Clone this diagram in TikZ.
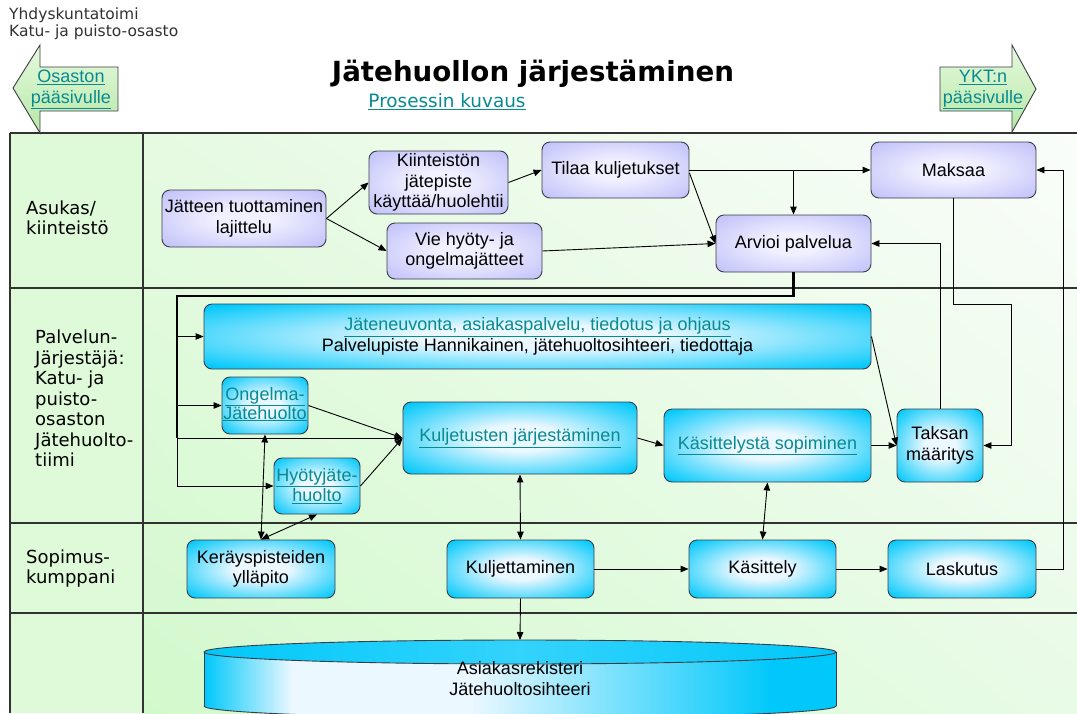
\documentclass[tikz,border=0pt]{standalone}
\usepackage{fontspec}
\setmainfont{Liberation Sans}
\newfontfamily\verd{DejaVu Sans}
\usetikzlibrary{arrows.meta,calc,shadings}

% palette
\definecolor{lanegreen}{RGB}{222,250,216}
\definecolor{bgUL}{RGB}{230,250,226}
\definecolor{bgUR}{RGB}{250,253,250}
\definecolor{bgLL}{RGB}{210,249,204}
\definecolor{bgLR}{RGB}{232,251,230}
\definecolor{lavOut}{RGB}{194,194,250}
\definecolor{lavIn}{RGB}{240,240,255}
\definecolor{cyanOut}{RGB}{0,200,250}
\definecolor{cyanIn}{RGB}{236,248,255}
\definecolor{link}{RGB}{8,138,145}
\definecolor{edge}{RGB}{60,60,70}
\definecolor{grid}{RGB}{50,50,50}
\definecolor{navTop}{RGB}{230,249,222}
\definecolor{navBot}{RGB}{182,232,166}

% soft glow inside the process boxes
\pgfdeclareradialshading{lavglow}{\pgfpoint{0bp}{0bp}}{color(0bp)=(lavIn); color(9bp)=(lavIn); color(34bp)=(lavOut); color(75bp)=(lavOut)}
\pgfdeclareradialshading{cyanglow}{\pgfpoint{0bp}{0bp}}{color(0bp)=(cyanIn); color(9bp)=(cyanIn); color(34bp)=(cyanOut); color(75bp)=(cyanOut)}
% register cylinder body
\pgfdeclarehorizontalshading{cylbody}{100bp}{color(0bp)=(cyanOut); color(25bp)=(cyanOut); color(32bp)=(cyanIn); color(46bp)=(cyanIn); color(70bp)=(cyanOut); color(100bp)=(cyanOut)}

\tikzset{
  box/.style={rounded corners=8pt, draw=edge, line width=0.9pt, inner sep=0pt,
    align=center, font=\fontsize{18}{20.5}\selectfont, text=black},
  lav/.style={box, shade, shading=lavglow},
  cy/.style={box, shade, shading=cyanglow},
  lane/.style={anchor=west, align=left, inner sep=0pt,
    font=\verd\fontsize{18}{20.5}\selectfont},
  navtext/.style={align=center, inner sep=0pt, text=link,
    font=\fontsize{18}{21}\selectfont},
  navshape/.style={draw=edge, line width=0.9pt, top color=navTop, bottom color=navBot},
  conn/.style={draw=black, line width=0.9pt},
  arr/.style={conn, -{Triangle[length=8pt,width=6.5pt]}},
  darr/.style={conn, {Triangle[length=8pt,width=6.5pt]}-{Triangle[length=8pt,width=6.5pt]}},
  bus/.style={draw=black, line width=2.6pt},
  gridline/.style={draw=grid, line width=1.1pt},
}
\newcommand{\lnk}[1]{\textcolor{link}{\underline{#1}}}

\begin{document}
\begin{tikzpicture}[x=1pt,y=-1pt]
\useasboundingbox (0,0) rectangle (1077,713);
\fill[white] (0,0) rectangle (1077,713);

% swimlane backgrounds
\fill[lanegreen] (10,133) rectangle (143,713);
\shade[upper left=bgUL, upper right=bgUR, lower left=bgLL, lower right=bgLR]
  (143,133) rectangle (1077,713);

% swimlane grid
\draw[gridline] (10,133) -- (1077,133);
\draw[gridline] (10,288) -- (1077,288);
\draw[gridline] (10,523) -- (1077,523);
\draw[gridline] (10,613) -- (1077,613);
\draw[gridline] (10,133) -- (10,713);
\draw[gridline] (143,133) -- (143,713);

% header
\node[anchor=west, align=left, inner sep=0pt, text={rgb,255:red,50;green,50;blue,50},
  font=\verd\fontsize{15.5}{17}\selectfont] (org) at (9,23.5)
  {Yhdyskuntatoimi\\Katu- ja puisto-osasto};
\node[inner sep=0pt, font=\verd\bfseries\fontsize{27.7}{30}\selectfont] (title) at (533,74)
  {Jätehuollon järjestäminen};
\node[inner sep=0pt, text=link, font=\verd\fontsize{18.4}{20}\selectfont] (sub) at (447,102)
  {\underline{Prosessin kuvaus}};

% navigation arrows
\draw[navshape] (13,88) -- (40,45) -- (40,67) -- (118,67) -- (118,111)
  -- (40,111) -- (40,133) -- cycle;
\node[navtext] (navL) at (71,89.5) {\underline{Osaston}\\\underline{pääsivulle}};
\draw[navshape] (1036,89) -- (1012,45) -- (1012,67) -- (940,67) -- (940,111)
  -- (1012,111) -- (1012,132) -- cycle;
\node[navtext] (navR) at (983,89.5) {\underline{YKT:n}\\\underline{pääsivulle}};

% lane titles
\node[lane] (l1) at (26,218) {Asukas/\\kiinteistö};
\node[lane] (l2) at (35,398.5) {Palvelun-\\Järjestäjä:\\Katu- ja\\puisto-\\osaston\\Jätehuolto-\\tiimi};
\node[lane] (l3) at (26,568.5) {Sopimus-\\kumppani};

% residents
\node[lav, minimum width=164pt, minimum height=57pt] (n1) at (244,218.5) {Jätteen tuottaminen\\lajittelu};
\node[lav, minimum width=139pt, minimum height=63pt] (n2) at (438.5,182.5) {Kiinteistön\\jätepiste\\käyttää/huolehtii};
\node[lav, minimum width=155pt, minimum height=56pt] (n3) at (464.5,251) {Vie hyöty- ja\\ongelmajätteet};
\node[lav, minimum width=147pt, minimum height=56pt] (n4) at (615.5,170) {Tilaa kuljetukset};
\node[lav, minimum width=165pt, minimum height=56pt] (n5) at (953.5,170) {Maksaa};
\node[lav, minimum width=155pt, minimum height=57pt] (n6) at (793.5,243.5) {Arvioi palvelua};

% service organiser
\node[cy, minimum width=667pt, minimum height=65pt] (b1) at (537.5,336.5)
  {\lnk{Jäteneuvonta, asiakaspalvelu, tiedotus ja ohjaus}\\Palvelupiste Hannikainen, jätehuoltosihteeri, tiedottaja};
\node[cy, minimum width=86pt, minimum height=57pt] (b2) at (265,405.5)
  {\raisebox{7pt}{\begin{tabular}{@{}c@{}}\lnk{Ongelma-}\\[-1.5pt]\lnk{Jätehuolto}\end{tabular}}};
\node[cy, minimum width=86pt, minimum height=56pt] (b3) at (317,486) {\lnk{Hyötyjäte-}\\\lnk{huolto}};
\node[cy, minimum width=234pt, minimum height=72pt] (b4) at (520,438) {\lnk{Kuljetusten järjestäminen}};
\node[cy, minimum width=207pt, minimum height=73pt] (b5) at (767.5,445.5) {\lnk{Käsittelystä sopiminen}};
\node[cy, minimum width=86pt, minimum height=73pt] (b6) at (940,445.5) {Taksan\\määritys};

% contract partners
\node[cy, minimum width=148pt, minimum height=58pt] (c1) at (261,569) {Keräyspisteiden\\ylläpito};
\node[cy, minimum width=147pt, minimum height=58pt] (c2) at (520.5,569) {Kuljettaminen};
\node[cy, minimum width=147pt, minimum height=58pt] (c3) at (762.5,569) {Käsittely};
\node[cy, minimum width=148pt, minimum height=58pt] (c4) at (962,569) {Laskutus};

% customer register (cylinder)
\shade[shading=cylbody] (204,652) rectangle (836,706);
\shade[shading=cylbody] (520,706) ellipse[x radius=316, y radius=12];
\begin{scope}
  \clip (190,706) rectangle (850,740);
  \draw[edge, line width=0.9pt] (520,706) ellipse[x radius=316, y radius=12];
\end{scope}
\draw[edge, line width=0.9pt] (204,652) -- (204,706) (836,652) -- (836,706);
\shade[left color=cyanOut, right color=cyanOut, middle color=cyanOut!80!white]
  (520,652) ellipse[x radius=316, y radius=12];
\draw[edge, line width=0.9pt] (520,652) ellipse[x radius=316, y radius=12];
\coordinate (cylTop) at (520,640);
\node[align=center, inner sep=0pt, font=\fontsize{18}{21}\selectfont] (cyl) at (520,679)
  {Asiakasrekisteri\\Jätehuoltosihteeri};

% flows among residents
\draw[arr] (n1.east) -- (n2.west);
\draw[arr] (n1.east) -- (n3.west);
\draw[arr] (n2.east) -- (n4.west);
\draw[arr] (n3.east) -- (n6.west);
\draw[arr] ($(n4.east)+(0,3)$) -- (n6.west);
\draw[arr] (n4.east) -- (n5.west);
\draw[arr] (n6.north |- n4.east) -- (n6.north);

% feedback loops on the right
\coordinate (payTurn) at (1011,304);
\draw[arr] (n5.south) |- (payTurn) |- (b6.east);
\draw[arr] (b6.north) |- (n6.east);
\draw[arr] (c4.east) -- ++(27,0) |- (n5.east);

% distribution bus from the assessment
\coordinate (busTop) at (177,296);
\coordinate (busMid) at (177,438);
\draw[bus] (n6.south) |- (busTop) -- (busMid);
\draw[arr] (busTop |- b1.west) -- (b1.west);
\draw[arr] (busTop |- b2.west) -- (b2.west);
\draw[arr] (busMid) -- (b4.west);
\draw[arr] (busMid) |- (b3.west);

% organiser flows
\draw[arr] (b2.east) -- (b4.west);
\draw[arr] (b3.east) -- (b4.west);
\draw[arr] (b4.east) -- (b5.west);
\draw[arr] (b5.east) -- (b6.west);
\draw[arr] (b1.east) -- (b6.west);

% links to partners
\draw[darr] (c1.north) -- (b2.south);
\draw[darr] (c1.north) -- (b3.south);
\draw[darr] (b4.south) -- (c2.north);
\draw[darr] (b5.south) -- (c3.north);
\draw[arr] (c2.east) -- (c3.west);
\draw[arr] (c3.east) -- (c4.west);
\draw[arr] (c2.south) -- (cylTop);
\end{tikzpicture}
\end{document}
